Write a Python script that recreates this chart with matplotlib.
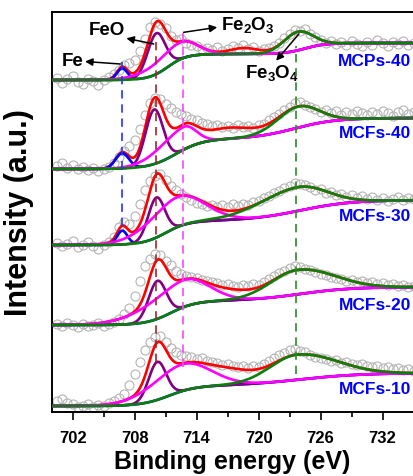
import numpy as np
import matplotlib.pyplot as plt

plt.rcParams['font.family'] = 'Liberation Sans'
plt.rcParams['font.weight'] = 'bold'
plt.rcParams['mathtext.fontset'] = 'custom'
plt.rcParams['mathtext.rm'] = 'Liberation Sans:bold'
plt.rcParams['mathtext.bf'] = 'Liberation Sans:bold'
plt.rcParams['mathtext.it'] = 'Liberation Sans:bold'

# measured points, 0.5 eV steps from 700.5 to 735 eV (stacked, arbitrary units)
energy = np.arange(700.5, 735.01, 0.5)
samples = ['MCPs-40', 'MCFs-40', 'MCFs-30', 'MCFs-20', 'MCFs-10']

mcps40 = [334, 329, 333, 336, 330, 328, 333, 331, 327, 332,
          335, 338, 342, 347, 349, 352, 361, 373, 385, 390,
          388, 384, 376, 372, 373, 369, 367, 366, 363, 364,
          362, 365, 361, 363, 366, 364, 367, 363, 365, 361,
          363, 364, 366, 369, 374, 378, 382, 381, 383, 378,
          375, 372, 369, 371, 368, 370, 367, 371, 368, 366,
          370, 367, 372, 369, 366, 370, 368, 371, 367, 369]
mcfs40 = [246, 249, 244, 247, 243, 245, 242, 244, 241, 243,
          245, 249, 255, 261, 266, 272, 283, 297, 309, 314,
          313, 308, 304, 300, 298, 296, 293, 292, 289, 288,
          286, 287, 285, 286, 284, 287, 285, 286, 284, 287,
          288, 292, 295, 298, 302, 305, 309, 310, 307, 305,
          303, 300, 302, 299, 301, 297, 300, 298, 301, 299,
          297, 300, 298, 301, 299, 296, 300, 302, 298, 300]
mcfs30 = [169, 166, 168, 171, 165, 167, 170, 166, 163, 167,
          170, 175, 185, 190, 188, 196, 208, 222, 231, 236,
          238, 232, 226, 222, 218, 215, 212, 209, 208, 206,
          207, 205, 207, 205, 208, 206, 208, 207, 210, 211,
          214, 216, 219, 221, 224, 226, 229, 228, 227, 225,
          222, 223, 219, 220, 217, 218, 215, 217, 214, 216,
          213, 215, 212, 214, 211, 213, 215, 212, 214, 213]
mcfs20 = [88, 86, 89, 87, 85, 88, 86, 87, 89, 86,
          88, 90, 93, 98, 104, 116, 131, 146, 153, 158,
          157, 151, 147, 141, 138, 136, 135, 134, 132, 131,
          130, 129, 127, 128, 126, 125, 127, 126, 128, 127,
          130, 133, 136, 139, 141, 144, 146, 145, 143, 142,
          140, 138, 137, 135, 134, 133, 131, 132, 130, 131,
          129, 130, 128, 129, 127, 128, 126, 127, 125, 126]
mcfs10 = [11, 13, 9, 8, 5, 6, 8, 5, 7, 6,
          9, 11, 14, 18, 27, 38, 50, 62, 70, 75,
          76, 70, 64, 60, 57, 56, 55, 53, 54, 51,
          50, 49, 47, 48, 46, 45, 46, 44, 46, 45,
          48, 51, 54, 57, 59, 62, 63, 61, 60, 57,
          55, 54, 53, 51, 52, 49, 50, 48, 47, 48,
          46, 45, 46, 44, 45, 43, 44, 42, 43, 41]
measured = [mcps40, mcfs40, mcfs30, mcfs20, mcfs10]

# fitted background (two steps) for each sample
bg_base = [332, 243, 167, 87, 6]
bg_step1 = [26, 30, 24, 24, 20]
bg_step1_at = [711.2, 712.0, 711.0, 711.5, 711.3]
bg_step1_w = [0.9, 1.3, 1.1, 1.2, 1.3]
bg_step2 = [11, 21, 21, 14, 13]
bg_step2_at = [724.5, 723.5, 724.0, 724.0, 724.0]
bg_step2_w = [1.0, 2.0, 2.5, 2.5, 3.0]

# fitted peaks: height, centre (eV), left width, right width
fe_fit = [(11.5, 706.8, 0.5, 0.5), (15.2, 706.8, 0.65, 0.65), (13.8, 706.8, 0.5, 0.5),
          (0, 706.8, 0.5, 0.5), (0, 706.8, 0.5, 0.5)]
feo_fit = [(40.8, 710.1, 0.85, 0.85), (54.5, 709.9, 0.85, 0.85), (40, 710.1, 0.8, 0.8),
           (38, 710.2, 0.85, 0.85), (38, 710.2, 0.85, 0.85)]
fe2o3_fit = [(17, 712.4, 2.6, 1.6), (22.8, 712.7, 2.4, 1.2), (30, 712.1, 2.8, 2.6),
             (27, 712.7, 3.5, 2.4), (26.7, 712.6, 3.0, 2.7)]
sat_fit = [(6, 718.6, 1.4, 1.4), (11, 717.0, 2.5, 2.5), (0, 717.0, 2.0, 2.0),
           (6, 717.5, 1.8, 1.8), (10, 717.5, 2.0, 2.0)]
fe3o4_fit = [(18.6, 723.8, 1.4, 1.4), (21, 723.8, 2.0, 2.0), (23.8, 723.7, 3.6, 2.8),
             (24.4, 723.7, 2.6, 3.5), (25.1, 723.7, 2.6, 3.8)]

label_y = [352, 279, 196.5, 107, 23]

# reference lines: energy, y from, y to, colour
ref_e = [706.8, 710.1, 712.65, 723.6]
ref_y0 = [186, 50, 45, 38]
ref_y1 = [350, 376, 383, 366]
ref_col = ['#2233ff', '#a0282a', '#ff44ff', '#2a8a2a']


def peak(x, h, c, sl, sr):
    s = np.where(x < c, sl, sr)
    return h * np.exp(-(x - c) ** 2 / (2 * s ** 2))


def step(x, c, w):
    return 1 / (1 + np.exp(-(x - c) / w))


x = np.linspace(700, 735, 800)

fig = plt.figure(figsize=(4.13, 4.77), dpi=100)
ax = fig.add_axes([52 / 413, 64 / 477, 361 / 413, 400 / 477])

for i in range(len(samples)):
    ax.plot(energy, measured[i], 'o', ms=6.5, mfc='none', mec='#b4b4b4', mew=0.8, zorder=1)
    bg = (bg_base[i] + bg_step1[i] * step(x, bg_step1_at[i], bg_step1_w[i])
          + bg_step2[i] * step(x, bg_step2_at[i], bg_step2_w[i]))
    p_fe = peak(x, *fe_fit[i])
    p_feo = peak(x, *feo_fit[i])
    p_fe2o3 = peak(x, *fe2o3_fit[i])
    p_sat = peak(x, *sat_fit[i])
    p_fe3o4 = peak(x, *fe3o4_fit[i])
    total = bg + p_fe + p_feo + p_fe2o3 + p_sat + p_fe3o4
    ax.plot(x, total, color='#ff0000', lw=1.9, zorder=2)
    ax.plot(x, bg + p_fe, color='#0000ff', lw=1.9, zorder=3)
    ax.plot(x, bg + p_feo, color='#800080', lw=1.9, zorder=3)
    ax.plot(x, bg + p_fe2o3, color='#ff00ff', lw=1.9, zorder=3)
    ax.plot(x, bg + p_fe3o4, color='#0a800a', lw=1.9, zorder=4)
    ax.text(734.8, label_y[i], samples[i], color='#0000ff', fontsize=12.5,
            fontweight='bold', ha='right', va='center', zorder=6)

for e, y0, y1, c in zip(ref_e, ref_y0, ref_y1, ref_col):
    ax.plot([e, e], [y0, y1], color=c, lw=1.2, ls=(0, (5, 3.5)), zorder=5)

arrow = dict(arrowstyle='-|>', color='k', lw=1.1, mutation_scale=11, shrinkA=0, shrinkB=0)
ax.annotate('', xy=(703.2, 350.5), xytext=(706.6, 348), arrowprops=arrow, zorder=6)
ax.text(702.0, 352, 'Fe', fontsize=13.5, ha='center', va='center')
ax.annotate('', xy=(707.2, 373.7), xytext=(709.85, 368), arrowprops=arrow, zorder=6)
ax.text(705.3, 382.5, 'FeO', fontsize=13.5, ha='center', va='center')
ax.annotate('', xy=(716.0, 384.7), xytext=(712.75, 379.7), arrowprops=arrow, zorder=6)
ax.text(716.4, 383, r'$\mathbf{Fe_2O_3}$', fontsize=13.5, ha='left', va='baseline')
ax.annotate('', xy=(721.7, 351.3), xytext=(723.9, 378), arrowprops=arrow, zorder=6)
ax.text(718.7, 334.7, r'$\mathbf{Fe_3O_4}$', fontsize=13.5, ha='left', va='baseline')

ax.set_xlim(700, 734.95)
ax.set_ylim(0, 400)
ax.set_xticks(np.arange(702, 733, 6))
ax.set_xticks(np.arange(705, 735, 6), minor=True)
ax.set_yticks([])
ax.tick_params(axis='x', which='major', direction='out', length=6, width=1.2,
               labelsize=12, pad=7)
ax.tick_params(axis='x', which='minor', direction='out', length=3.5, width=1.2)
for s in ['left', 'bottom', 'top']:
    ax.spines[s].set_linewidth(1.4)
ax.spines['right'].set_visible(False)

ax.set_xlabel('Binding energy (eV)', fontsize=18, fontweight='bold', labelpad=3)
ax.set_ylabel('Intensity (a.u.)', fontsize=22, fontweight='bold')
ax.yaxis.set_label_coords(-0.05, 0.5)

fig.savefig('out.png', dpi=100)
